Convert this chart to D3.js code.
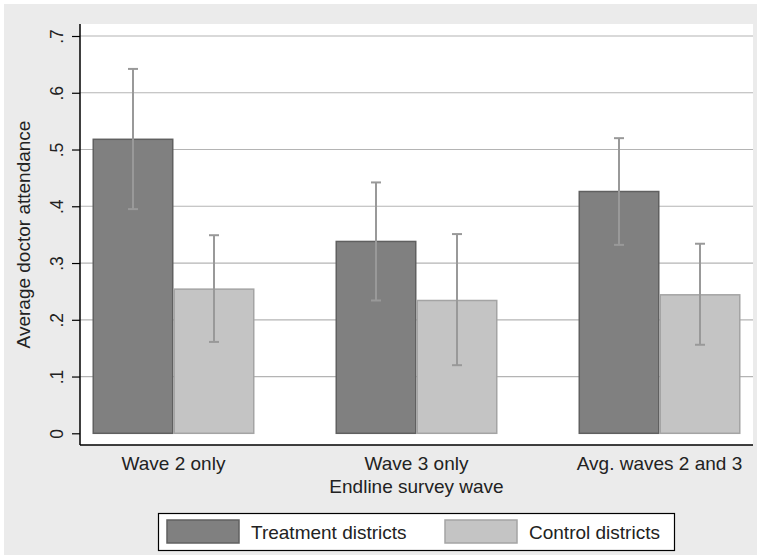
<!DOCTYPE html>
<html><head><meta charset="utf-8">
<script src="https://cdn.jsdelivr.net/npm/d3@7"></script>
<style>body{margin:0;background:#fff}svg{display:block}text{font-family:"Liberation Sans",Arial,Helvetica,sans-serif;fill:#222}</style>
</head><body>
<script>
const categories = ["Wave 2 only", "Wave 3 only", "Avg. waves 2 and 3"];
const seriesNames = ["Treatment districts", "Control districts"];
const treatment = [0.518, 0.338, 0.426];
const treatmentLo = [0.395, 0.234, 0.332];
const treatmentHi = [0.642, 0.442, 0.520];
const control = [0.254, 0.234, 0.244];
const controlLo = [0.161, 0.120, 0.156];
const controlHi = [0.349, 0.351, 0.334];
const yTicks = [0, 0.1, 0.2, 0.3, 0.4, 0.5, 0.6, 0.7];
const yTickLabels = ["0", ".1", ".2", ".3", ".4", ".5", ".6", ".7"];
const xTitle = "Endline survey wave";
const yTitle = "Average doctor attendance";

const W = 761, H = 559;
const fills = ["#808080", "#c4c4c4"];
const strokes = ["#606060", "#a4a4a4"];
const series = [
  {name: seriesNames[0], v: treatment, lo: treatmentLo, hi: treatmentHi},
  {name: seriesNames[1], v: control, lo: controlLo, hi: controlHi}
];
const rows = [];
categories.forEach((c, i) => series.forEach((s, j) => rows.push({cat: c, si: j, v: s.v[i], lo: s.lo[i], hi: s.hi[i]})));

const svg = d3.select("body").append("svg").attr("width", W).attr("height", H);
svg.append("rect").attr("x", 4).attr("y", 4).attr("width", 753).attr("height", 551).attr("fill", "#ebebeb");

const pL = 80, pR = 753, pT = 24, pB = 445;
svg.append("rect").attr("x", pL).attr("y", pT).attr("width", pR - pL).attr("height", pB - pT).attr("fill", "#fff");

const y = d3.scaleLinear().domain([0, 0.7]).range([433.3, 36]);
const x0 = d3.scaleBand().domain(categories).range([pL, pR]).paddingInner(1/3).paddingOuter(0.0514);
const x1 = d3.scaleBand().domain([0, 1]).range([0, x0.bandwidth()]);

// gridlines
svg.append("g").selectAll("line").data(yTicks.filter(t => t > 0)).join("line")
  .attr("x1", pL).attr("x2", pR).attr("y1", d => y(d)).attr("y2", d => y(d))
  .attr("stroke", "#b4b4b4").attr("stroke-width", 1.2);

// bars
svg.append("g").selectAll("rect").data(rows).join("rect")
  .attr("x", d => x0(d.cat) + x1(d.si) + 0.75)
  .attr("y", d => y(d.v))
  .attr("width", x1.bandwidth() - 1.5)
  .attr("height", d => y(0) - y(d.v))
  .attr("fill", d => fills[d.si]).attr("stroke", d => strokes[d.si]).attr("stroke-width", 1.5);

// error bars
const eg = svg.append("g").attr("stroke", "#999").attr("stroke-width", 2);
rows.forEach(d => {
  const cx = x0(d.cat) + x1(d.si) + x1.bandwidth() / 2;
  eg.append("line").attr("x1", cx).attr("x2", cx).attr("y1", y(d.lo)).attr("y2", y(d.hi));
  eg.append("line").attr("x1", cx - 5).attr("x2", cx + 5).attr("y1", y(d.lo)).attr("y2", y(d.lo));
  eg.append("line").attr("x1", cx - 5).attr("x2", cx + 5).attr("y1", y(d.hi)).attr("y2", y(d.hi));
});

// axes lines
svg.append("line").attr("x1", pL).attr("x2", pL).attr("y1", pT).attr("y2", pB).attr("stroke", "#000").attr("stroke-width", 1.5);
svg.append("line").attr("x1", pL).attr("x2", pR).attr("y1", pB).attr("y2", pB).attr("stroke", "#000").attr("stroke-width", 1.5);

// y axis ticks
const yAxis = d3.axisLeft(y).tickValues(yTicks).tickSize(8).tickFormat((d, i) => yTickLabels[i]);
const ga = svg.append("g").attr("transform", `translate(${pL},0)`).call(yAxis);
ga.select(".domain").remove();
ga.selectAll(".tick line").attr("stroke", "#000").attr("stroke-width", 1.2);
ga.selectAll(".tick text").attr("x", null).attr("dy", null)
  .attr("transform", "translate(-17,0) rotate(-90)")
  .attr("text-anchor", "middle").attr("font-size", 17.5).attr("fill", "#222")
  .style("font-family", '"Liberation Sans",Arial,sans-serif');

// x labels
svg.append("g").selectAll("text").data(categories).join("text")
  .attr("x", d => x0(d) + x0.bandwidth() / 2).attr("y", 470)
  .attr("text-anchor", "middle").attr("font-size", 19).text(d => d);
svg.append("text").attr("x", (pL + pR) / 2).attr("y", 493).attr("text-anchor", "middle").attr("font-size", 19).text(xTitle);
svg.append("text").attr("transform", `translate(30,${(pT + pB) / 2}) rotate(-90)`).attr("text-anchor", "middle").attr("font-size", 19).text(yTitle);

// legend
const lg = svg.append("g");
lg.append("rect").attr("x", 158.5).attr("y", 513.5).attr("width", 516).attr("height", 37).attr("fill", "#fff").attr("stroke", "#000").attr("stroke-width", 1.2);
const keyX = [167, 445];
series.forEach((s, j) => {
  lg.append("rect").attr("x", keyX[j]).attr("y", 520).attr("width", 72).attr("height", 23)
    .attr("fill", fills[j]).attr("stroke", strokes[j]).attr("stroke-width", 1.5);
  lg.append("text").attr("x", keyX[j] + 84).attr("y", 539).attr("font-size", 19).text(s.name);
});
</script>
</body></html>
